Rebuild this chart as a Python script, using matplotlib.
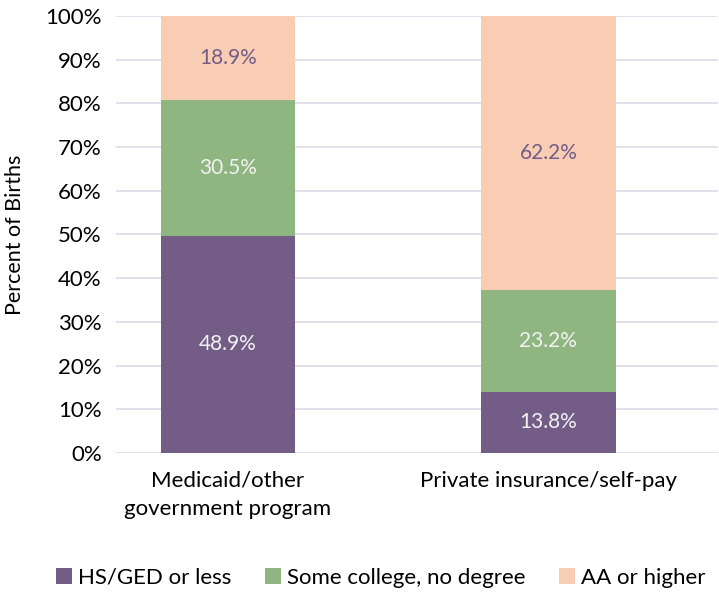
import matplotlib.pyplot as plt
import numpy as np

plt.rcParams['font.family'] = ['Lato', 'DejaVu Sans']

categories = ['Medicaid/other\ngovernment program', 'Private insurance/self-pay']
series_names = ['HS/GED or less', 'Some college, no degree', 'AA or higher']
hs_ged = [48.9, 13.8]
some_college = [30.5, 23.2]
aa_higher = [18.9, 62.2]

colors = ['#735D87', '#8FB680', '#F9CDB4']
label_colors = ['#F2F2F2', '#F2F2F2', '#735D87']

fig = plt.figure(figsize=(7.19, 5.92), dpi=100)
ax = fig.add_axes([0.161, 0.235, 0.838, 0.738])

data = np.array([hs_ged, some_college, aa_higher])
totals = data.sum(axis=0)
shares = data / totals * 100  # 100% stacked
x = np.arange(len(categories))
bottom = np.zeros(len(categories))
for i, name in enumerate(series_names):
    ax.bar(x, shares[i], 0.42, bottom=bottom, color=colors[i], label=name, zorder=3)
    for j in range(len(categories)):
        ax.text(x[j], bottom[j] + shares[i][j] / 2, f'{data[i][j]:.1f}%',
                ha='center', va='center', color=label_colors[i], fontsize=15, zorder=4)
    bottom += shares[i]

ax.set_xlim(-0.35, 1.53)
ax.set_ylim(0, 100)
ax.set_yticks(np.arange(0, 101, 10))
ax.set_yticklabels([f'{v}%' for v in range(0, 101, 10)], fontsize=16)
ax.set_xticks(x)
ax.set_xticklabels(categories, fontsize=16, linespacing=1.5)
ax.tick_params(length=0, pad=10)
ax.tick_params(axis='x', pad=13)
ax.grid(axis='y', color='#E2DCEB', linewidth=1.3, zorder=0)
for s in ax.spines.values():
    s.set_visible(False)
ax.set_ylabel('Percent of Births', fontsize=15.5)
ax.yaxis.set_label_coords(-0.15, 0.5)

fig.legend(loc='center', bbox_to_anchor=(0.53, 0.024), ncol=3, frameon=False,
           fontsize=16, handlelength=0.7, handleheight=0.7, handletextpad=0.3,
           columnspacing=1.5)

fig.savefig('out.png', dpi=100)
